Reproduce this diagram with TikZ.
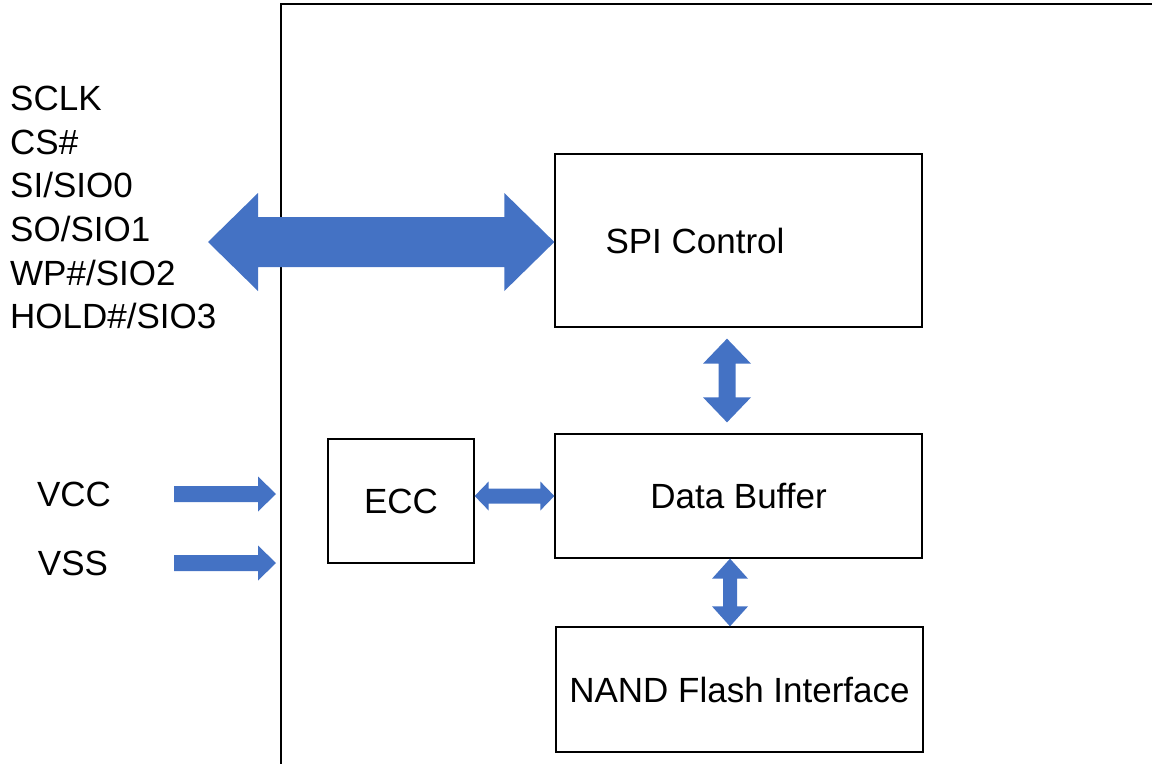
\documentclass[tikz,border=0pt]{standalone}
\usepackage{fontspec}
\setmainfont{Liberation Sans}
\usetikzlibrary{calc}
\definecolor{flowblue}{HTML}{4472C4}
\tikzset{
  block/.style={draw, line width=1.3pt, minimum width=367pt, inner sep=0pt},
  flow/.style={fill=flowblue},
}
% fat arrows: #1 from, #2 to, #3 half shaft, #4 half head, #5 head length
\newcommand{\hboth}[5]{%
  \fill[flow] let \p1=(#1), \p2=(#2) in
    (\x1,\y1) -- ({\x1+#5pt},{\y1+#4pt}) -- ({\x1+#5pt},{\y1+#3pt})
    -- ({\x2-#5pt},{\y1+#3pt}) -- ({\x2-#5pt},{\y1+#4pt}) -- (\x2,\y1)
    -- ({\x2-#5pt},{\y1-#4pt}) -- ({\x2-#5pt},{\y1-#3pt})
    -- ({\x1+#5pt},{\y1-#3pt}) -- ({\x1+#5pt},{\y1-#4pt}) -- cycle;}
\newcommand{\vboth}[5]{%
  \fill[flow] let \p1=(#1), \p2=(#2) in
    (\x1,\y1) -- ({\x1+#4pt},{\y1-#5pt}) -- ({\x1+#3pt},{\y1-#5pt})
    -- ({\x1+#3pt},{\y2+#5pt}) -- ({\x1+#4pt},{\y2+#5pt}) -- (\x1,\y2)
    -- ({\x1-#4pt},{\y2+#5pt}) -- ({\x1-#3pt},{\y2+#5pt})
    -- ({\x1-#3pt},{\y1-#5pt}) -- ({\x1-#4pt},{\y1-#5pt}) -- cycle;}
\newcommand{\hright}[5]{%
  \fill[flow] let \p1=(#1), \p2=(#2) in
    ({\x1},{\y1+#3pt}) -- ({\x2-#5pt},{\y1+#3pt}) -- ({\x2-#5pt},{\y1+#4pt})
    -- (\x2,\y1) -- ({\x2-#5pt},{\y1-#4pt}) -- ({\x2-#5pt},{\y1-#3pt})
    -- ({\x1},{\y1-#3pt}) -- cycle;}

\begin{document}
\begin{tikzpicture}[x=1pt, y=-1pt, font=\fontsize{35}{43.6}\selectfont]
\useasboundingbox (0,0) rectangle (1152,764);
% chip outline
\draw[line width=1.3pt] (1152,4) -- (281,4) -- (281,764);
% blocks
\node (spi) [block, minimum height=173pt, label={[xshift=-43.5pt]center:SPI Control}] at (738.5,240.5) {};
\node (buf) [block, minimum height=124pt] at (738.5,496) {Data Buffer};
\node (nand) [block, minimum height=125pt] at (739.5,689.5) {NAND Flash Interface};
\node (ecc) [block, minimum width=146pt, minimum height=124pt] at (401,501) {ECC};
% pins
\node (pins) [anchor=north west, align=left, inner sep=0pt] at (10,86) {SCLK\\CS\#\\SI/SIO0\\SO/SIO1\\WP\#/SIO2\\HOLD\#/SIO3};
\node (vcc) at (74,494) {VCC};
\node (vss) at (73,563) {VSS};
\coordinate (busend) at (208,242);
\coordinate (vccin) at (174,494);
\coordinate (vssin) at (174,563);
\coordinate (chipedge) at (276,0);
% arrows
\hboth{busend}{spi.west |- busend}{25}{49}{50}
\hboth{ecc.east |- buf.west}{buf.west}{7.5}{14.5}{14}
\vboth{[xshift=-11.5pt, yshift=-11pt]spi.south}{[xshift=-11.5pt, yshift=11pt]buf.north}{8.5}{24}{25}
\vboth{[xshift=-8.5pt]buf.south}{[xshift=-8.5pt]nand.north}{7}{18}{20}
\hright{vccin}{vccin -| chipedge}{8}{17.5}{18}
\hright{vssin}{vssin -| chipedge}{8}{17.5}{18}
\end{tikzpicture}
\end{document}
